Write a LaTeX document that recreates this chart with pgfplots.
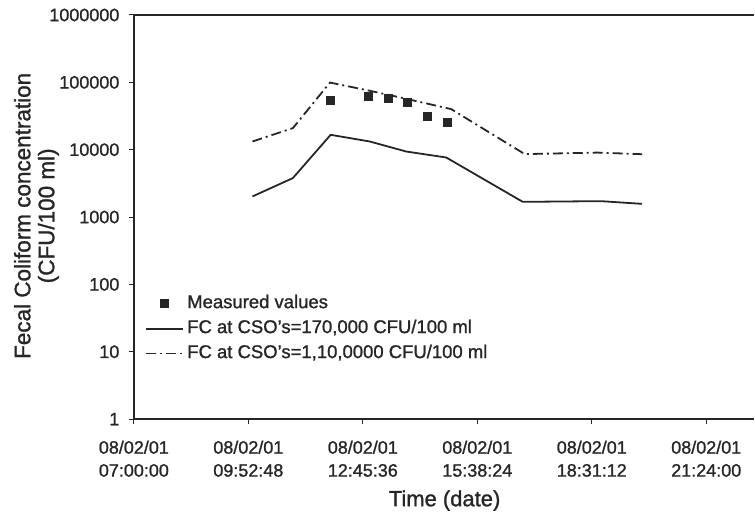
\documentclass[border=0pt]{standalone}
\usepackage{pgfplots}
\pgfplotsset{compat=1.18}
\usepackage{fontspec}
\setmainfont{Liberation Sans}[FakeBold=1.2]
\definecolor{ink}{HTML}{262626}
\pgfplotsset{
  markleg/.style={legend image code/.code={\draw[##1] plot coordinates {(18.5pt,0pt)};}},
  lineleg/.style={legend image code/.code={\draw[##1] (0pt,0pt) -- (37pt,0pt);}},
}
\begin{document}
\begin{tikzpicture}
\begin{axis}[
  scale only axis, width=621pt, height=404.5pt,
  at={(0pt,0pt)}, anchor=south west,
  ymode=log, ymin=1, ymax=1000000, xmin=0, xmax=936.5,
  axis x line*=box, axis y line*=left,
  axis line style={line width=1.4pt, color=ink},
  xtick={0,172.8,345.6,518.4,691.2,864},
  xticklabels={{08/02/01\\07:00:00},{08/02/01\\09:52:48},{08/02/01\\12:45:36},{08/02/01\\15:38:24},{08/02/01\\18:31:12},{08/02/01\\21:24:00}},
  xtick pos=left,
  ytick={1,10,100,1000,10000,100000,1000000},
  yticklabels={1,10,100,1000,10000,100000,1000000},
  yminorticks=false,
  tick align=outside, major tick length=5pt,
  tick style={line width=1pt, color=ink},
  tick label style={font=\fontsize{18}{23}\selectfont, color=ink},
  xticklabel style={align=center, yshift=-13pt},
  yticklabel style={xshift=-6pt},
  xlabel={Time (date)},
  ylabel={Fecal Coliform concentration\\(CFU/100 ml)},
  xlabel style={font=\fontsize{22}{26}\selectfont, color=ink, at={(axis description cs:0.5008,-0.2015)}, anchor=center},
  ylabel style={font=\fontsize{22.5}{24}\selectfont, color=ink, align=center, at={(axis description cs:-0.157,0.503)}, anchor=center},
  legend style={draw=none, fill=none, at={(axis description cs:0.0176,0.3122)}, anchor=north west,
    font=\fontsize{18.5}{21}\selectfont, text=ink, row sep=4pt, column sep=1.5pt, inner sep=0pt,
    nodes={inner sep=2pt, text height=13pt, text depth=4pt}},
  legend cell align=left,
]
\addplot[only marks, mark=square*, mark size=4pt, color=ink, markleg]
  coordinates {(297,55000) (354,61500) (384.5,58300) (412.7,50100) (443,31800) (473,25300)};
\addlegendentry{Measured values}
\addplot[color=ink, line width=1.8pt, lineleg]
  coordinates {(179,2022) (240,3790) (297,16630) (356,13240) (411,9400) (471.5,7660) (587,1682) (705,1722) (767,1570)};
\addlegendentry{FC at CSO's=170,000 CFU/100 ml}
\addplot[color=ink, line width=1.8pt, dash pattern=on 10pt off 4pt on 2pt off 4pt, lineleg]
  coordinates {(179,13240) (240,20900) (296,99300) (356,75000) (411,57000) (479,40000) (590,8600) (700,9060) (767,8570)};
\addlegendentry{FC at CSO's=1,10,0000 CFU/100 ml}
\end{axis}
\path[use as bounding box] (-134pt,-99.5pt) rectangle (621pt,419.5pt);
\end{tikzpicture}
\end{document}
